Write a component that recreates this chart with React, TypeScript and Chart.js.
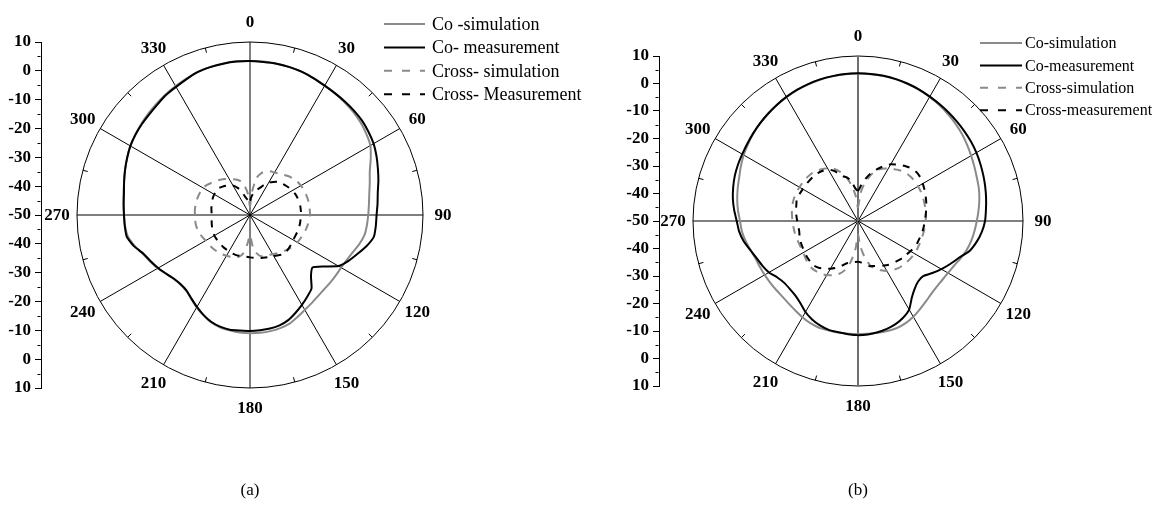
import React, { useEffect, useRef } from 'react';
import { Chart, registerables } from 'chart.js';

Chart.register(...registerables);

// ---------- data ----------
const ANGLES = [0, 5, 10, 15, 20, 25, 30, 35, 40, 45, 50, 55, 60, 65, 70, 75, 80, 85, 90, 95, 100, 105, 110, 115, 120, 125, 130, 135, 140, 145, 150, 155, 160, 165, 170, 175, 180, 185, 190, 195, 200, 205, 210, 215, 220, 225, 230, 235, 240, 245, 250, 255, 260, 265, 270, 275, 280, 285, 290, 295, 300, 305, 310, 315, 320, 325, 330, 335, 340, 345, 350, 355];
const ANGLE_TICK_LABELS = ['0', '30', '60', '90', '120', '150', '180', '210', '240', '270', '300', '330'];
const MINOR_ANGLE_TICKS = [15, 45, 75, 105, 135, 165, 195, 225, 255, 285, 315, 345];

const A_LEGEND = ['Co -simulation', 'Co- measurement', 'Cross- simulation', 'Cross- Measurement'];
const B_LEGEND = ['Co-simulation', 'Co-measurement', 'Cross-simulation', 'Cross-measurement'];

const A_CO_SIM = [
  3.4, 3.4, 3.3, 3.1, 2.8, 2.3, 1.8, 1.4, 1.0, 0.6, 0.0, -0.8,
  -1.8, -3.8, -5.8, -7.0, -8.0, -8.6, -9.0, -9.3, -9.7, -10.8, -12.1, -13.0,
  -13.5, -13.6, -13.6, -13.6, -13.3, -12.7, -12.0, -11.0, -9.9, -9.4, -9.1, -9.0,
  -9.0, -9.1, -9.4, -9.7, -10.4, -11.7, -13.0, -14.5, -15.6, -15.9, -15.5, -14.5,
  -13.0, -11.8, -10.5, -8.6, -7.0, -6.5, -6.3, -6.0, -5.5, -4.8, -3.9, -3.0,
  -2.1, -1.4, -0.8, -0.2, 0.4, 1.0, 1.6, 2.2, 2.8, 3.2, 3.4, 3.5,
];
const A_CO_MEAS = [
  3.4, 3.3, 3.3, 3.1, 2.8, 2.3, 1.8, 1.5, 1.3, 1.1, 0.8, 0.2,
  -0.5, -1.6, -2.8, -3.9, -5.0, -5.6, -6.1, -6.2, -6.4, -8.2, -10.4, -12.3,
  -14.6, -18.9, -21.7, -20.1, -16.8, -15.4, -14.0, -12.6, -11.2, -10.4, -10.0, -9.9,
  -9.8, -9.8, -9.6, -9.9, -10.6, -11.8, -13.2, -14.6, -15.8, -16.0, -15.6, -14.5,
  -13.2, -12.0, -10.7, -8.3, -6.6, -6.4, -6.3, -6.0, -5.6, -4.8, -3.9, -3.0,
  -2.1, -1.5, -1.0, -0.6, 0.0, 0.8, 1.3, 2.0, 2.8, 3.1, 3.3, 3.4,
];
const A_CROSS_SIM = [
  -47, -42, -37, -35, -33.8, -33.3, -33.0, -32.5, -31.8, -31.0, -30.4, -29.9,
  -29.6, -29.4, -29.3, -29.2, -29.2, -29.2, -29.2, -29.4, -29.7, -30.0, -30.4, -30.7,
  -31.0, -31.5, -32.0, -32.6, -33.2, -33.8, -34.3, -34.7, -35.0, -35.2, -36.5, -39,
  -43, -40, -36.5, -35, -34.4, -34.0, -33.7, -33.3, -33.0, -32.8, -32.6, -32.4,
  -32.2, -31.8, -31.4, -31.1, -30.9, -30.9, -30.9, -30.8, -30.8, -30.8, -30.9, -31.0,
  -31.2, -31.8, -32.6, -33.3, -34.0, -34.8, -35.6, -36.3, -37.0, -38, -40, -43,
];
const A_CROSS_MEAS = [
  -45, -43.5, -42, -41, -40, -38.5, -37, -36, -35, -34.5, -34, -33.5,
  -33, -32.7, -32.5, -32.4, -32.3, -32.3, -32.3, -32.4, -32.4, -32.5, -32.6, -32.7,
  -32.7, -32.5, -32.3, -32.1, -32.2, -33, -33.5, -33.9, -34.3, -34.6, -34.9, -35.1,
  -35.3, -35.5, -35.5, -35.4, -35.3, -35.3, -35.4, -35.5, -35.5, -35.6, -35.6, -35.7,
  -35.7, -35.9, -36.1, -36.3, -36.5, -36.7, -36.7, -36.6, -36.4, -36.2, -36.0, -35.8,
  -35.7, -35.6, -35.6, -36.2, -36.8, -37.4, -38.1, -39.5, -41, -43.4, -44.5, -45,
];

const B_CO_SIM = [
  3.6, 3.6, 3.5, 3.3, 3.0, 2.6, 2.1, 1.5, 0.8, 0.1, -0.7, -1.6,
  -2.5, -3.3, -4.0, -4.5, -5.2, -6.0, -6.8, -7.5, -8.2, -9.1, -10.3, -11.5,
  -12.2, -12.6, -12.7, -12.4, -11.7, -10.8, -9.8, -9.0, -8.6, -8.6, -8.7, -8.8,
  -8.9, -8.8, -8.8, -8.8, -8.7, -9.0, -9.6, -10.3, -10.8, -11.1, -11.1, -11.0,
  -10.8, -10.6, -10.3, -9.5, -8.5, -7.6, -7.1, -6.2, -5.4, -4.7, -4.0, -3.0,
  -2.0, -1.2, -0.4, 0.3, 0.9, 1.5, 2.0, 2.5, 2.9, 3.2, 3.4, 3.6,
];
const B_CO_MEAS = [
  3.7, 3.7, 3.6, 3.4, 3.1, 2.7, 2.2, 1.8, 1.4, 1.0, 0.6, 0.2,
  -0.3, -0.9, -1.5, -2.1, -2.7, -3.3, -3.8, -4.8, -6.2, -8.0, -10.9, -13.0,
  -15.0, -17.0, -18.9, -19.0, -17.9, -15.9, -12.8, -11.2, -10.1, -9.4, -8.9, -8.6,
  -8.5, -8.7, -8.9, -9.0, -9.6, -10.5, -11.8, -13.5, -14.6, -15.0, -15.0, -14.2,
  -12.6, -11.6, -10.7, -9.4, -7.8, -6.6, -5.9, -4.8, -3.8, -3.0, -2.3, -1.8,
  -1.4, -0.9, -0.3, 0.3, 0.9, 1.5, 2.1, 2.6, 3.0, 3.3, 3.5, 3.7,
];
const B_CROSS_SIM = [
  -45, -40, -36, -33, -30.5, -29, -28, -27, -26, -25.3, -25, -24.8,
  -24.8, -24.8, -24.9, -25, -25.1, -25.2, -25.4, -25.6, -25.8, -26, -26.1, -26.2,
  -26.3, -26.5, -26.8, -27.1, -27.5, -28.2, -29, -30.2, -31.5, -33.5, -37, -41,
  -45, -40, -35, -31.5, -29.5, -28.3, -27.3, -26.6, -26.2, -26.0, -26.2, -26.6,
  -27, -27.1, -27, -26.8, -26.6, -26.4, -26.2, -25.9, -25.6, -25.4, -25.3, -25.3,
  -25.4, -25.5, -25.6, -25.8, -26.3, -27, -27.8, -29, -31, -33.5, -37, -41,
];
const B_CROSS_MEAS = [
  -39, -37, -34.5, -32, -30, -28, -26.2, -25, -23.8, -22.8, -22.3, -22.3,
  -22.8, -23.3, -23.8, -24.3, -24.8, -25.3, -25.7, -26, -26.3, -26.7, -27, -27.4,
  -28, -28.6, -29, -29.6, -30, -30.6, -31.3, -32, -32.6, -33, -34, -34.8,
  -35.2, -35, -34.6, -34.1, -32.7, -31.2, -30, -28.8, -27.8, -27.2, -27.2, -27.3,
  -27.5, -27.7, -27.8, -28, -28.3, -28.2, -27.9, -27.5, -27.1, -26.8, -26.3, -26.6,
  -26.8, -26.9, -27, -27.1, -27.3, -27.7, -28.3, -30, -32.5, -33.5, -35, -38,
];

const R_MIN = -50;
const R_MAX = 10;
const Y_MIN = -110; // mirrored lower half of the left dB axis
const Y_MAX = 10;

// ---------- styling ----------
const FONT = '"Liberation Serif", "Times New Roman", Times, serif';
const GRAY = '#8a8a8a';
const BLACK = '#000000';

type PanelCfg = {
  left: number;
  width: number;
  height: number;
  padding: { left: number; right: number; top: number; bottom: number };
  axisWidth: number;
  legendX: number;
  legendLen: number;
  legendTextX: number;
  legendTop: number;
  legendStep: number;
  legendFont: number;
  angleFont: number;
  axisFont: number;
  labelGap: number;
  verticalSpokeColor: string;
  verticalSpokeWidth: number;
  legend: string[];
  series: number[][];
};

const PANEL_A: PanelCfg = {
  left: 0,
  width: 587,
  height: 516,
  padding: { left: 3, right: 128, top: 42, bottom: 128 },
  axisWidth: 38,
  legendX: 384,
  legendLen: 41,
  legendTextX: 432,
  legendTop: 24,
  legendStep: 23.4,
  legendFont: 18,
  angleFont: 17,
  axisFont: 17,
  labelGap: 20,
  verticalSpokeColor: BLACK,
  verticalSpokeWidth: 1,
  legend: A_LEGEND,
  series: [A_CO_SIM, A_CO_MEAS, A_CROSS_SIM, A_CROSS_MEAS],
};

const PANEL_B: PanelCfg = {
  left: 587,
  width: 587,
  height: 516,
  padding: { left: 32, right: 117, top: 56, bottom: 130 },
  axisWidth: 40,
  legendX: 393,
  legendLen: 42,
  legendTextX: 438,
  legendTop: 43,
  legendStep: 22.4,
  legendFont: 16,
  angleFont: 17,
  axisFont: 17,
  labelGap: 20,
  verticalSpokeColor: '#6e6e6e',
  verticalSpokeWidth: 2,
  legend: B_LEGEND,
  series: [B_CO_SIM, B_CO_MEAS, B_CROSS_SIM, B_CROSS_MEAS],
};

const STYLES = [
  { color: GRAY, dash: [] as number[], order: 2, tension: 0.25 },
  { color: BLACK, dash: [] as number[], order: 0, tension: 0.15 },
  { color: GRAY, dash: [8, 7], order: 3, tension: 0.25 },
  { color: BLACK, dash: [7, 7], order: 1, tension: 0.15 },
];

function Panel({ cfg }: { cfg: PanelCfg }) {
  const ref = useRef<HTMLCanvasElement | null>(null);

  useEffect(() => {
    const canvas = ref.current;
    if (!canvas) return;

    const decor = {
      id: 'polarDecor',
      afterDraw(chart: any) {
        const ctx = chart.ctx as CanvasRenderingContext2D;
        const r = chart.scales.r;
        const y = chart.scales.y;
        const R = r.drawingArea;
        ctx.save();
        // minor ticks on the outer circle (every 15°, between the spokes)
        ctx.strokeStyle = BLACK;
        ctx.lineWidth = 1;
        ctx.setLineDash([]);
        MINOR_ANGLE_TICKS.forEach((deg) => {
          const idx = ANGLES.indexOf(deg);
          const a = r.getPointPosition(idx, R);
          const b = r.getPointPosition(idx, R - 5);
          ctx.beginPath();
          ctx.moveTo(a.x, a.y);
          ctx.lineTo(b.x, b.y);
          ctx.stroke();
        });
        // angle labels
        ctx.fillStyle = BLACK;
        ctx.font = `bold ${cfg.angleFont}px ${FONT}`;
        ctx.textAlign = 'center';
        ctx.textBaseline = 'middle';
        ANGLE_TICK_LABELS.forEach((lab) => {
          const idx = ANGLES.indexOf(Number(lab));
          const p = r.getPointPosition(idx, R + cfg.labelGap);
          ctx.fillText(lab, p.x, p.y + 1);
        });
        // minor ticks on the left dB axis
        const ax = y.right - 0.5;
        ctx.beginPath();
        for (let v = Y_MIN + 5; v < Y_MAX; v += 10) {
          const py = Math.round(y.getPixelForValue(v)) + 0.5;
          ctx.moveTo(ax - 3, py);
          ctx.lineTo(ax, py);
        }
        ctx.stroke();
        // legend
        chart.data.datasets.forEach((ds: any, i: number) => {
          const yy = cfg.legendTop + i * cfg.legendStep;
          ctx.strokeStyle = ds.borderColor;
          ctx.lineWidth = 2;
          ctx.setLineDash(ds.borderDash && ds.borderDash.length ? [8, 10] : []);
          ctx.beginPath();
          ctx.moveTo(cfg.legendX, yy);
          ctx.lineTo(cfg.legendX + cfg.legendLen, yy);
          ctx.stroke();
          ctx.setLineDash([]);
          ctx.fillStyle = BLACK;
          ctx.font = `${cfg.legendFont}px ${FONT}`;
          ctx.textAlign = 'left';
          ctx.textBaseline = 'middle';
          ctx.fillText(ds.label, cfg.legendTextX, yy + 1);
        });
        ctx.restore();
      },
    };

    const chart = new Chart(canvas, {
      type: 'radar',
      data: {
        labels: ANGLES.map(String),
        datasets: cfg.series.map((data, i) => ({
          label: cfg.legend[i],
          data,
          borderColor: STYLES[i].color,
          backgroundColor: 'rgba(0,0,0,0)',
          borderWidth: 2,
          borderDash: STYLES[i].dash,
          fill: false,
          pointRadius: 0,
          pointHoverRadius: 0,
          tension: STYLES[i].tension,
          order: STYLES[i].order,
        })),
      },
      options: {
        responsive: false,
        animation: false,
        events: [],
        layout: { padding: cfg.padding },
        plugins: {
          legend: { display: false },
          tooltip: { enabled: false },
          title: { display: false },
        },
        scales: {
          r: {
            min: R_MIN,
            max: R_MAX,
            startAngle: 0,
            ticks: { display: false, stepSize: 10 },
            pointLabels: { display: false },
            grid: {
              circular: true,
              color: (c: any) => (c.tick && c.tick.value === R_MAX ? BLACK : 'rgba(0,0,0,0)'),
              lineWidth: 1,
            },
            angleLines: {
              display: true,
              color: (c: any) =>
                c.index === 0 || c.index === ANGLES.indexOf(180) ? cfg.verticalSpokeColor : BLACK,
              lineWidth: (c: any) => {
                if (c.index === 0 || c.index === ANGLES.indexOf(180)) return cfg.verticalSpokeWidth;
                return ANGLES[c.index] % 30 === 0 ? 1 : 0;
              },
            },
          },
          y: {
            type: 'linear',
            position: 'left',
            min: Y_MIN,
            max: Y_MAX,
            afterFit: (s: any) => {
              s.width = cfg.axisWidth;
            },
            ticks: {
              stepSize: 10,
              autoSkip: false,
              padding: 4,
              color: BLACK,
              font: { family: FONT, size: cfg.axisFont, weight: 'bold' },
              callback: (v: any) => {
                const n = Number(v);
                return String(n >= R_MIN ? n : 2 * R_MIN - n);
              },
            },
            grid: {
              drawOnChartArea: false,
              drawTicks: true,
              tickLength: 6,
              color: BLACK,
            },
            border: { display: true, color: BLACK, width: 1 },
          },
        } as any,
      },
      plugins: [decor],
    } as any);

    return () => chart.destroy();
  }, [cfg]);

  return (
    <canvas
      ref={ref}
      width={cfg.width}
      height={cfg.height}
      style={{ position: 'absolute', left: cfg.left, top: 0, width: cfg.width, height: cfg.height }}
    />
  );
}

export default function App() {
  const caption: React.CSSProperties = {
    position: 'absolute',
    top: 480,
    width: 60,
    textAlign: 'center',
    fontFamily: FONT,
    fontSize: 17,
    lineHeight: '20px',
    color: '#000',
  };
  return (
    <div style={{ position: 'absolute', left: 0, top: 0, width: 1174, height: 516, background: '#fff' }}>
      <Panel cfg={PANEL_A} />
      <Panel cfg={PANEL_B} />
      <div style={{ ...caption, left: 250 - 30 }}>(a)</div>
      <div style={{ ...caption, left: 858 - 30 }}>(b)</div>
    </div>
  );
}
